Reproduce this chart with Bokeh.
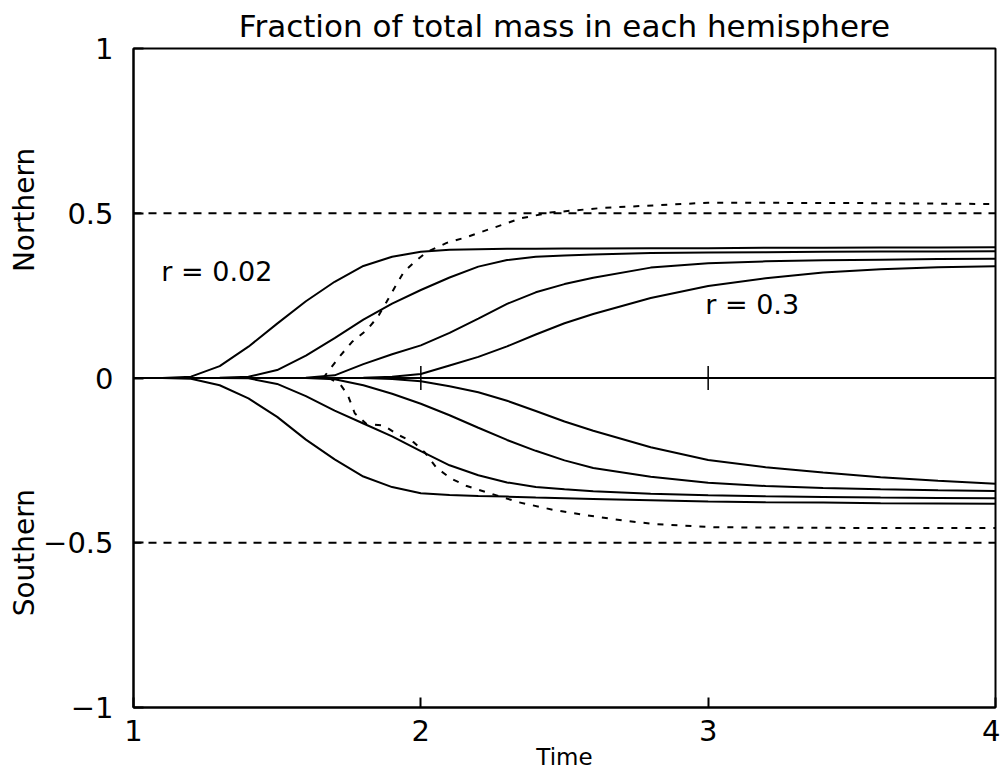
import math

from bokeh.embed import file_html
from bokeh.layouts import row
from bokeh.models import Label, Range1d, FixedTicker
from bokeh.plotting import figure
from bokeh.resources import INLINE

# Common time grid for the solid curves
time = [1.0, 1.1, 1.2, 1.3, 1.4, 1.5, 1.6, 1.7, 1.8, 1.9, 2.0, 2.1, 2.2,
        2.3, 2.4, 2.5, 2.6, 2.8, 3.0, 3.2, 3.4, 3.6, 3.8, 4.0]

# Northern hemisphere mass fraction, from r = 0.02 (fastest) to r = 0.3
north_1 = [0.0, 0.0, 0.004, 0.036, 0.095, 0.165, 0.233, 0.292, 0.340, 0.368,
           0.383, 0.389, 0.391, 0.392, 0.392, 0.393, 0.393, 0.394, 0.394,
           0.395, 0.395, 0.396, 0.396, 0.397]
north_2 = [0.0, 0.0, 0.0, 0.001, 0.004, 0.024, 0.068, 0.121, 0.177, 0.226,
           0.267, 0.305, 0.338, 0.358, 0.368, 0.372, 0.375, 0.379, 0.381,
           0.382, 0.383, 0.384, 0.384, 0.385]
north_3 = [0.0, 0.0, 0.0, 0.0, 0.0, 0.0, 0.001, 0.008, 0.042, 0.072, 0.099,
           0.137, 0.180, 0.225, 0.260, 0.285, 0.304, 0.335, 0.348, 0.354,
           0.357, 0.359, 0.361, 0.362]
north_4 = [0.0, 0.0, 0.0, 0.0, 0.0, 0.0, 0.0, 0.0, 0.001, 0.004, 0.012,
           0.038, 0.064, 0.096, 0.132, 0.166, 0.194, 0.243, 0.279, 0.303,
           0.320, 0.330, 0.336, 0.339]

# Southern hemisphere mass fraction (negative), same ordering
south_1 = [0.0, 0.0, -0.002, -0.022, -0.062, -0.118, -0.187, -0.247, -0.299,
           -0.331, -0.350, -0.355, -0.358, -0.360, -0.363, -0.365, -0.367,
           -0.371, -0.375, -0.377, -0.378, -0.380, -0.381, -0.382]
south_2 = [0.0, 0.0, 0.0, 0.0, -0.001, -0.018, -0.055, -0.099, -0.138,
           -0.177, -0.222, -0.265, -0.295, -0.317, -0.331, -0.338, -0.344,
           -0.351, -0.356, -0.359, -0.361, -0.363, -0.364, -0.365]
south_3 = [0.0, 0.0, 0.0, 0.0, 0.0, 0.0, 0.0, -0.004, -0.022, -0.048, -0.078,
           -0.113, -0.151, -0.188, -0.221, -0.250, -0.273, -0.300, -0.318,
           -0.328, -0.334, -0.338, -0.341, -0.343]
south_4 = [0.0, 0.0, 0.0, 0.0, 0.0, 0.0, 0.0, 0.0, 0.0, -0.003, -0.010,
           -0.025, -0.043, -0.069, -0.100, -0.132, -0.160, -0.210, -0.249,
           -0.271, -0.287, -0.301, -0.312, -0.321]

# Reference case (dashed curves)
ref_north_t = [1.66, 1.72, 1.76, 1.81, 1.85, 1.88, 1.91, 1.94, 1.98, 2.02,
               2.09, 2.15, 2.25, 2.35, 2.45, 2.63, 3.0, 3.5, 4.0]
ref_north = [0.0, 0.068, 0.109, 0.144, 0.185, 0.230, 0.276, 0.321, 0.354,
             0.382, 0.410, 0.425, 0.455, 0.485, 0.502, 0.516, 0.532, 0.531,
             0.528]
ref_south_t = [1.68, 1.72, 1.745, 1.77, 1.81, 1.87, 1.92, 1.975, 2.015, 2.055,
               2.105, 2.16, 2.34, 2.46, 2.58, 2.70, 2.81, 3.02, 3.5, 4.0]
ref_south = [0.0, -0.020, -0.050, -0.107, -0.139, -0.144, -0.172, -0.195,
             -0.227, -0.273, -0.305, -0.328, -0.377, -0.400, -0.417, -0.432,
             -0.443, -0.453, -0.455, -0.455]

# Half-mass limits
limit_levels = [0.5, -0.5]

x_ticks = [1, 2, 3, 4]
y_ticks = [-1, -0.5, 0, 0.5, 1]
y_tick_labels = {-1: "\u22121", -0.5: "\u22120.5", 0: "0", 0.5: "0.5", 1: "1"}
inner_ticks = [2, 3]

# Hemisphere names and where they sit on the vertical scale
hemispheres = ["Northern", "Southern"]
hemisphere_pos = [0.51, -0.53]

FONT = "DejaVu Sans"
INK = "black"
TOP, BOTTOM = 48, 66
STRIP_W = 40

p = figure(width=1000 - STRIP_W, height=773, output_backend="svg",
           toolbar_location=None,
           x_range=Range1d(1, 4), y_range=Range1d(-1, 1),
           min_border_left=132 - STRIP_W, min_border_right=5,
           min_border_top=TOP, min_border_bottom=BOTTOM,
           title="Fraction of total mass in each hemisphere")

p.background_fill_color = "white"
p.border_fill_color = "white"
p.outline_line_color = INK
p.outline_line_width = 2
p.grid.visible = False

p.title.align = "center"
p.title.text_font = FONT
p.title.text_font_size = "31px"
p.title.text_font_style = "normal"
p.title.text_color = INK
p.title.standoff = 9

for ax in (p.xaxis[0], p.yaxis[0]):
    ax.axis_line_color = INK
    ax.axis_line_width = 2
    ax.major_tick_in = 10
    ax.major_tick_out = 0
    ax.major_tick_line_width = 2
    ax.major_tick_line_color = INK
    ax.minor_tick_line_color = None
    ax.major_label_text_font = FONT
    ax.major_label_text_font_size = "29px"
    ax.major_label_text_color = INK

p.xaxis.ticker = FixedTicker(ticks=x_ticks)
p.xaxis.major_label_standoff = 12
p.xaxis.axis_label = "Time"
p.xaxis.axis_label_text_font = FONT
p.xaxis.axis_label_text_font_size = "23px"
p.xaxis.axis_label_text_font_style = "normal"
p.xaxis.axis_label_text_color = INK
p.xaxis.axis_label_standoff = 0

p.yaxis.ticker = FixedTicker(ticks=y_ticks)
p.yaxis.major_label_overrides = y_tick_labels
p.yaxis.major_label_standoff = 20

# Horizontal reference lines: zero and the half-mass limits
p.line([time[0], time[-1]], [0, 0], line_color=INK, line_width=2)
for lvl in limit_levels:
    p.line([time[0], time[-1]], [lvl, lvl], line_color=INK, line_width=2,
           line_dash="8 7")

# Tick crosses on the zero line
p.scatter(inner_ticks, [0] * len(inner_ticks), marker="cross", size=24,
          line_color=INK, line_width=1.5)

for series in (north_1, north_2, north_3, north_4,
               south_1, south_2, south_3, south_4):
    p.line(time, series, line_color=INK, line_width=2)

p.line(ref_north_t, ref_north, line_color=INK, line_width=2, line_dash="6 8")
p.line(ref_south_t, ref_south, line_color=INK, line_width=2, line_dash="6 8")

# Curve annotations
for x, y, txt in ((1.097, 0.323, "r = 0.02"), (2.99, 0.223, "r = 0.3")):
    p.add_layout(Label(x=x, y=y, text=txt, text_font=FONT,
                       text_font_size="27px", text_color=INK,
                       text_baseline="middle", text_align="left"))

# Narrow strip on the left carrying the hemisphere names, sharing the y scale
strip = figure(width=STRIP_W, height=773, output_backend="svg",
               toolbar_location=None,
               x_range=Range1d(0, 1), y_range=p.y_range,
               min_border_left=0, min_border_right=0,
               min_border_top=TOP, min_border_bottom=BOTTOM)
strip.axis.visible = False
strip.grid.visible = False
strip.outline_line_color = None
strip.background_fill_color = "white"
strip.border_fill_color = "white"
for y, txt in zip(hemisphere_pos, hemispheres):
    strip.add_layout(Label(x=0.6, y=y, text=txt, angle=math.pi / 2,
                           text_font=FONT, text_font_size="28px",
                           text_color=INK, text_align="center",
                           text_baseline="middle"))

layout = row(strip, p, spacing=0)
open("out.html", "w").write(file_html(layout, INLINE))
